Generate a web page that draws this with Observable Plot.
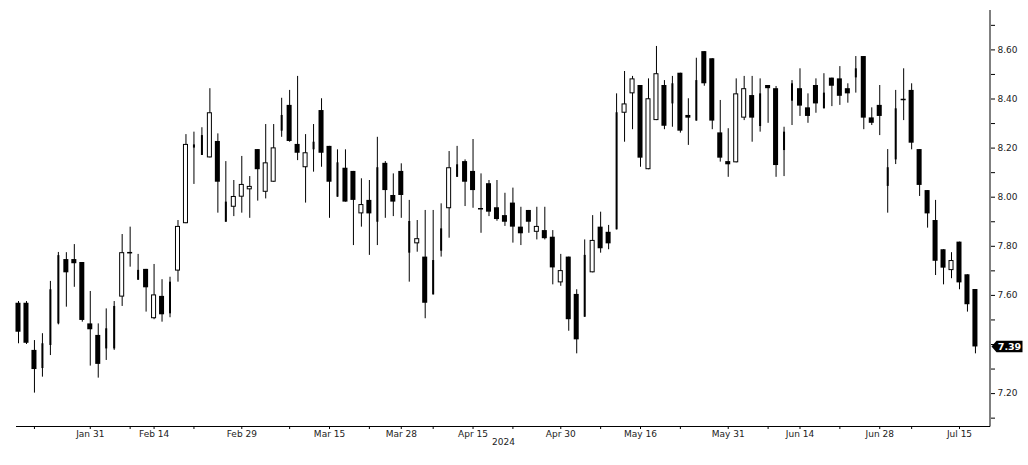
<!DOCTYPE html>
<html><head><meta charset="utf-8">
<script src="https://cdn.jsdelivr.net/npm/d3@7"></script>
<script src="https://cdn.jsdelivr.net/npm/@observablehq/plot@0.6"></script>
<style>
html,body{margin:0;padding:0;background:#fff}
#chart svg{display:block}
</style>
</head><body><div id="chart"></div>
<script>
// Trading days (HK calendar) shown on the chart, 2024
const janDays=[18,19,22,23,24,25,26,29,30,31];
const febDays=[1,2,5,6,7,8,9,14,15,16,19,20,21,22,23,26,27,28,29];
const marDays=[1,4,5,6,7,8,11,12,13,14,15,18,19,20,21,22,25,26,27,28];
const aprDays=[2,3,5,8,9,10,11,12,15,16,17,18,19,22,23,24,25,26,29,30];
const mayDays=[2,3,6,7,8,9,10,13,14,16,17,20,21,22,23,24,27,28,29,30,31];
const junDays=[3,4,5,6,7,11,12,13,14,17,18,19,20,21,24,25,26,27,28];
const julDays=[2,3,4,5,8,9,10,11,12,15,16,17];

const open=[7.568,7.568,7.376,7.302,7.396,7.484,7.746,7.746,7.734,7.484,
7.437,7.382,7.382,7.593,7.774,7.662,7.706,7.505,7.596,7.525,
7.699,7.892,8.200,8.170,8.160,8.227,7.898,7.959,8.000,8.030,
8.194,8.020,8.061,8.269,8.374,8.215,8.120,8.193,8.353,8.207,
8.000,8.118,8.105,7.932,7.987,7.898,8.138,8.007,8.105,7.772,
7.810,7.756,7.602,7.780,7.953,8.081,8.145,8.105,7.953,8.055,
7.957,7.925,7.976,7.878,7.946,7.857,7.864,7.837,7.651,7.756,
7.604,7.511,7.692,7.878,7.857,7.867,8.342,8.421,8.455,8.112,
8.312,8.455,8.380,8.505,8.333,8.310,8.593,8.564,8.262,8.145,
8.140,8.322,8.414,8.288,8.455,8.442,8.190,8.391,8.442,8.364,
8.455,8.360,8.485,8.482,8.442,8.486,8.573,8.323,8.374,8.044,
8.152,8.398,8.435,8.194,8.027,7.905,7.786,7.701,7.817,7.684,
7.624];
const high=[7.575,7.575,7.416,7.444,7.657,7.775,7.774,7.807,7.734,7.616,
7.484,7.545,7.575,7.848,7.878,7.767,7.706,7.726,7.664,7.674,
7.905,8.255,8.265,8.283,8.442,8.258,8.145,8.068,8.166,8.084,
8.194,8.296,8.296,8.403,8.435,8.492,8.255,8.296,8.401,8.207,
8.193,8.193,8.105,8.075,8.068,8.244,8.145,8.095,8.136,7.987,
7.905,7.946,7.946,7.973,8.186,8.207,8.152,8.235,8.095,8.068,
8.068,8.016,8.037,7.959,7.946,7.959,7.959,7.864,7.767,7.756,
7.623,7.826,7.925,7.939,7.885,8.421,8.512,8.492,8.455,8.482,
8.614,8.475,8.492,8.505,8.401,8.566,8.593,8.564,8.394,8.279,
8.482,8.492,8.492,8.482,8.455,8.451,8.285,8.475,8.523,8.421,
8.482,8.503,8.485,8.532,8.462,8.573,8.573,8.364,8.455,8.194,
8.435,8.523,8.462,8.194,8.027,7.987,7.786,7.774,7.817,7.684,
7.624];
const low=[7.403,7.400,7.202,7.267,7.355,7.480,7.552,7.633,7.491,7.312,
7.263,7.335,7.376,7.555,7.715,7.661,7.532,7.501,7.491,7.509,
7.654,7.892,8.052,8.170,8.160,7.935,7.898,7.921,7.935,7.914,
7.984,7.993,8.061,8.244,8.224,8.149,7.976,8.102,8.122,7.914,
8.000,7.980,7.803,7.878,7.763,7.803,7.914,7.921,7.914,7.654,
7.776,7.505,7.602,7.756,7.833,8.081,7.962,7.955,7.853,7.921,
7.902,7.881,7.813,7.803,7.853,7.826,7.826,7.643,7.637,7.454,
7.362,7.511,7.692,7.772,7.786,7.867,8.224,8.275,8.122,8.112,
8.312,8.275,8.285,8.261,8.211,8.310,8.452,8.275,8.143,8.081,
8.140,8.312,8.224,8.265,8.301,8.081,8.084,8.292,8.329,8.301,
8.342,8.360,8.369,8.374,8.383,8.424,8.275,8.292,8.251,7.935,
8.133,8.312,8.193,8.003,7.874,7.681,7.643,7.668,7.623,7.532,
7.362];
const close=[7.450,7.405,7.298,7.403,7.623,7.762,7.692,7.729,7.498,7.460,
7.319,7.464,7.555,7.774,7.774,7.702,7.631,7.602,7.521,7.654,
7.881,8.215,8.213,8.251,8.344,8.061,7.980,8.003,8.052,8.044,
8.112,8.140,8.201,8.333,8.227,8.179,8.181,8.224,8.179,8.061,
8.140,7.980,7.987,7.970,7.932,8.120,8.027,7.980,8.007,7.901,
7.831,7.568,7.742,7.871,8.120,8.132,8.061,8.027,7.953,7.939,
7.909,7.898,7.878,7.851,7.898,7.881,7.831,7.712,7.701,7.501,
7.419,7.763,7.824,7.790,7.810,8.344,8.380,8.482,8.159,8.401,
8.503,8.289,8.462,8.269,8.322,8.475,8.462,8.310,8.159,8.132,
8.421,8.442,8.322,8.421,8.442,8.129,8.265,8.462,8.371,8.329,
8.380,8.424,8.452,8.411,8.421,8.523,8.322,8.301,8.329,8.120,
8.360,8.398,8.220,8.048,7.932,7.739,7.711,7.742,7.651,7.562,
7.390];
// candle type: d = filled (down), u = hollow (up), t = narrow filled body
const kind=("dddtttdddd"+"dttudtdudt"+"uuttudtuuu"+"duutddutdd"+"tddudtdddt"+
"udttutdddd"+"ddddduddud"+"dtuddtuudu"+"udtddtdddd"+"uudtddttdd"+
"dtdddtdddt"+"tddddddudd"+"d").split("");

const xLabels=["Jan 31","Feb 14","Feb 29","Mar 15","Mar 28","Apr 15","Apr 30","May 16","May 31","Jun 14","Jun 28","Jul 15"];
const xMinor=["Jan 22","Feb 7","Feb 21","Mar 8","Mar 22","Apr 8","Apr 22","May 8","May 23","Jun 7","Jun 21","Jul 5"];
// 7.40 is hidden behind the last-price badge in the reference
const yMajor=[7.2,7.6,7.8,8.0,8.2,8.4,8.6];
const yMinor=[7.1,7.3,7.4,7.5,7.7,7.9,8.1,8.3,8.5,8.7];
const yearLabel="2024";

const months=[["Jan",janDays],["Feb",febDays],["Mar",marDays],["Apr",aprDays],["May",mayDays],["Jun",junDays],["Jul",julDays]];
const dates=months.flatMap(([m,ds])=>ds.map(d=>m+" "+d));
const rows=dates.map((d,i)=>({date:d,open:open[i],high:high[i],low:low[i],close:close[i],kind:kind[i]}));
const downRows=rows.filter(r=>r.kind==="d"&&r.open!==r.close);
const upRows=rows.filter(r=>r.kind==="u");
const thinRows=rows.filter(r=>r.kind==="t");
const dojiRows=rows.filter(r=>r.open===r.close);
const last=rows[rows.length-1];
const NS="http://www.w3.org/2000/svg";

const rightLine=(index,scales,values,dim,ctx)=>{
  const doc=(ctx&&ctx.document)||document;
  const l=doc.createElementNS(NS,"line");
  const x=dim.width-dim.marginRight;
  l.setAttribute("x1",x);l.setAttribute("x2",x);
  l.setAttribute("y1",dim.marginTop);l.setAttribute("y2",dim.height-dim.marginBottom+0.5);
  l.setAttribute("stroke","#000");l.setAttribute("stroke-width","1");
  return l;
};
const badge=(index,scales,values,dim,ctx)=>{
  const doc=(ctx&&ctx.document)||document;
  const g=doc.createElementNS(NS,"g");
  const y=scales.y(last.close);
  const x0=dim.width-dim.marginRight+1.5;
  const p=doc.createElementNS(NS,"path");
  p.setAttribute("d",`M${x0},${y} L${x0+5},${y-5.8} L${x0+31},${y-5.8} L${x0+31},${y+5.8} L${x0+5},${y+5.8} Z`);
  p.setAttribute("fill","#000");
  g.appendChild(p);
  const t=doc.createElementNS(NS,"text");
  t.setAttribute("x",x0+18);t.setAttribute("y",y);
  t.setAttribute("dy","0.35em");
  t.setAttribute("text-anchor","middle");
  t.setAttribute("fill","#fff");
  t.setAttribute("font-weight","bold");
  t.setAttribute("font-size","9.5px");
  t.setAttribute("font-family","DejaVu Sans");
  t.textContent=d3.format(".2f")(last.close);
  g.appendChild(t);
  return g;
};

const chart=Plot.plot({
  width:1028,height:465,
  marginTop:10,marginBottom:39,marginLeft:16,marginRight:38,
  style:{fontFamily:"DejaVu Sans",fontSize:"9px",color:"#222",background:"#fff"},
  x:{type:"band",domain:dates,range:[12.54,980.4],padding:0.37,round:false},
  y:{domain:[7.066,8.7605]},
  marks:[
    Plot.ruleX(rows,{x:"date",y1:"low",y2:"high",stroke:"#000",strokeWidth:1}),
    Plot.barY(downRows,{x:"date",y1:"open",y2:"close",fill:"#000"}),
    Plot.barY(upRows,{x:"date",y1:"open",y2:"close",fill:"#fff",stroke:"#000",strokeWidth:1,inset:0.5}),
    Plot.ruleX(thinRows,{x:"date",y1:"open",y2:"close",stroke:"#000",strokeWidth:2}),
    Plot.tickY(dojiRows,{x:"date",y:"close",stroke:"#000",strokeWidth:1.5}),
    Plot.ruleY([7.066],{stroke:"#000"}),
    Plot.axisX({ticks:xLabels,tickSize:3,tickPadding:1,label:null,stroke:"#000"}),
    Plot.axisX({ticks:xMinor,tickSize:3,tickFormat:()=>"",label:null,stroke:"#000"}),
    Plot.axisY({anchor:"right",ticks:yMajor,tickSize:4,tickPadding:3,tickFormat:d3.format(".2f"),label:null,stroke:"#000"}),
    Plot.axisY({anchor:"right",ticks:yMinor,tickSize:4,tickFormat:()=>"",label:null,stroke:"#000"}),
    Plot.text([yearLabel],{frameAnchor:"bottom",dy:18,fill:"#222"}),
    rightLine,
    badge
  ]
});
document.getElementById("chart").appendChild(chart);
</script>
</body></html>
